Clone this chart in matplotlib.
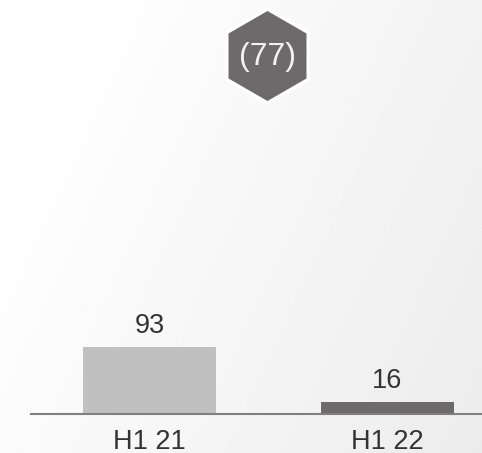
import numpy as np
import matplotlib.pyplot as plt
from matplotlib.patches import RegularPolygon

categories = ["H1 21", "H1 22"]
values = [93, 16]
bar_colors = ["#c0c0c0", "#6e6a6b"]
badge_value = 77

W, H = 482, 453
plt.rcParams["font.family"] = ["Liberation Sans", "DejaVu Sans"]

fig = plt.figure(figsize=(W / 100, H / 100), dpi=100)

# ── Tło z gradientem + heksagon (współrzędne pikselowe) ──────────────────────
bg = fig.add_axes([0, 0, 1, 1], zorder=0)
bg.set_xlim(0, W)
bg.set_ylim(H, 0)
bg.axis("off")
xx, yy = np.meshgrid(np.linspace(0, 1, 200), np.linspace(0, 1, 200))
t = np.clip(xx * 0.8 + yy * 0.35 - 0.15, 0, 1)
shade = 1.0 - 0.075 * t
bg.imshow(shade, cmap="gray", vmin=0, vmax=1, extent=(0, W, H, 0),
          aspect="auto", interpolation="bilinear")

hx, hy, r = 267.5, 56, 45
bg.add_patch(RegularPolygon((hx, hy), numVertices=6, radius=r + 4,
                            facecolor="white", edgecolor="none", alpha=0.9))
bg.add_patch(RegularPolygon((hx, hy), numVertices=6, radius=r,
                            facecolor="#6e6a6b", edgecolor="none"))
bg.text(hx, hy + 1, f"({badge_value})", ha="center", va="center",
        fontsize=23, color="#f2f2f2")

# ── Słupki ───────────────────────────────────────────────────────────────────
base_px = 414
ax = fig.add_axes([31 / W, (H - base_px) / H, 1 - 31 / W, base_px / H], zorder=1)
ax.set_facecolor("none")
x = np.arange(len(categories))
px_per_unit = 67 / 93
ax.set_xlim(-(149.5 - 31) / 238, (W - 149.5) / 238)
ax.set_ylim(0, base_px / px_per_unit)
ax.bar(x, values, width=133 / 238, color=bar_colors)
for xi, v in zip(x, values):
    ax.text(xi, v + 21 / px_per_unit, f"{v}", ha="center", va="center",
            fontsize=19.5, color="#333333")
for s in ["top", "right", "left"]:
    ax.spines[s].set_visible(False)
ax.spines["bottom"].set_color("#808080")
ax.spines["bottom"].set_linewidth(1.5)
ax.set_yticks([])
ax.set_xticks(x)
ax.set_xticklabels(categories, fontsize=19.5, color="#333333")
ax.tick_params(axis="x", length=0, pad=11)

fig.savefig("out.png", dpi=100)
